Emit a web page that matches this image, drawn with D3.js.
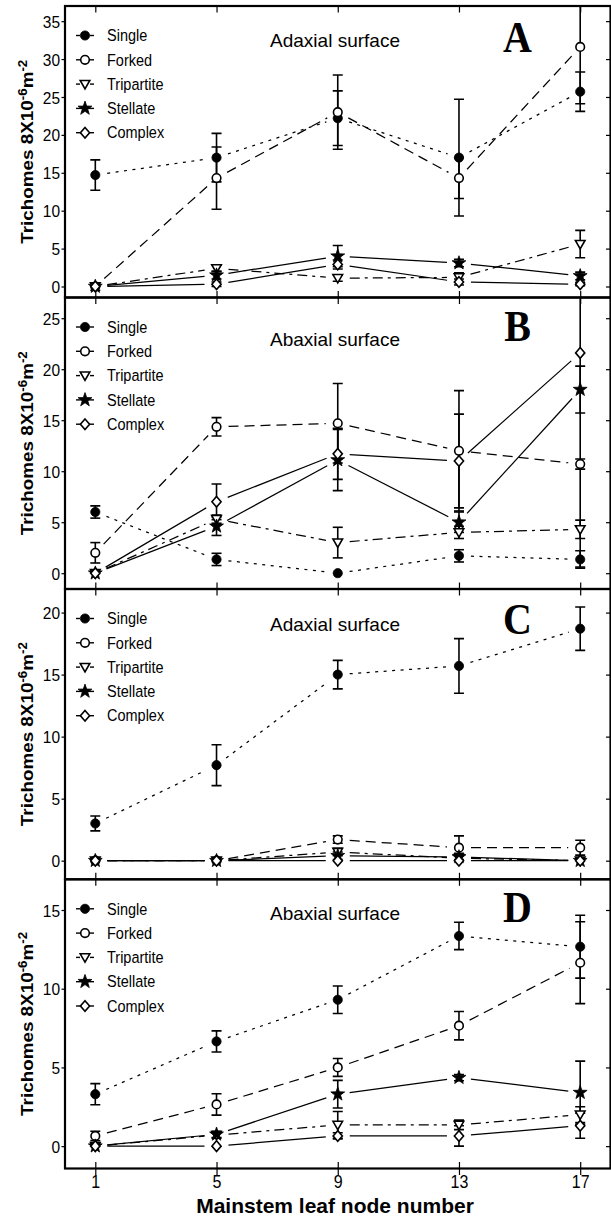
<!DOCTYPE html>
<html>
<head>
<meta charset="utf-8">
<script src="https://cdn.jsdelivr.net/npm/d3@7/dist/d3.min.js"></script>
<style>
  body { margin: 0; background: #fff; }
  svg { display: block; }
  text { font-family: "Liberation Sans", Arial, sans-serif; fill: #000; }
</style>
</head>
<body>
<script>
// Mainstem leaf nodes sampled
const nodes = [1, 5, 9, 13, 17];
const seriesNames = ["Single", "Forked", "Tripartite", "Stellate", "Complex"];
const panelLetters = ["A", "B", "C", "D"];
const surfaceTitles = ["Adaxial surface", "Abaxial surface", "Adaxial surface", "Abaxial surface"];

// y tick values per panel
const yTicksA = [0, 5, 10, 15, 20, 25, 30, 35];
const yTicksB = [0, 5, 10, 15, 20, 25];
const yTicksC = [0, 5, 10, 15, 20];
const yTicksD = [0, 5, 10, 15];

// Means (rows: Single, Forked, Tripartite, Stellate, Complex; columns: nodes)
const meansA = [
  [14.7, 17.0, 22.2, 17.0, 25.7],
  [0, 14.3, 23.0, 14.3, 31.6],
  [0, 2.4, 1.1, 1.2, 5.6],
  [0, 1.5, 4.0, 3.1, 1.4],
  [0, 0.3, 2.9, 0.6, 0.3]
];
const errsA = [
  [2.0, 3.2, 3.6, 7.7, 2.6],
  [0, 4.1, 4.9, 2.7, 7.5],
  [0.5, 0.4, 0.4, 0.6, 1.8],
  [0, 0.5, 1.4, 0.5, 0.5],
  [0, 0.3, 0.6, 0.4, 0.2]
];

const meansB = [
  [6.0, 1.35, 0, 1.7, 1.35],
  [2.0, 14.35, 14.7, 12.0, 10.7],
  [0, 5.3, 3.0, 4.0, 4.3],
  [0, 4.6, 11.1, 5.0, 18.0],
  [0, 7.0, 11.7, 11.0, 21.6]
];
const errsB = [
  [0.6, 0.6, 0, 0.6, 0.85],
  [1.0, 0.9, 3.9, 5.9, 0.5],
  [0, 0.4, 1.5, 0.6, 0.9],
  [0, 0.9, 3.0, 1.0, 2.3],
  [0, 1.75, 2.5, 4.6, 21.0]
];

const meansC = [
  [3.0, 7.7, 15.0, 15.7, 18.7],
  [0, 0, 1.7, 1.05, 1.05],
  [0, 0, 0.7, 0.2, 0],
  [0, 0, 0.4, 0.3, 0],
  [0, 0, 0, 0, 0]
];
const errsC = [
  [0.6, 1.65, 1.15, 2.2, 1.75],
  [0, 0, 0.3, 0.95, 0.6],
  [0, 0, 0.3, 0.2, 0],
  [0, 0, 0.3, 0.3, 0],
  [0, 0, 0, 0, 0]
];

const meansD = [
  [3.3, 6.65, 9.3, 13.35, 12.67],
  [0.65, 2.65, 5.0, 7.65, 11.65],
  [0, 0.7, 1.35, 1.35, 2.0],
  [0, 0.75, 3.3, 4.35, 3.4],
  [0, 0, 0.65, 0.65, 1.3]
];
const errsD = [
  [0.67, 0.67, 0.87, 0.87, 2.0],
  [0.3, 0.68, 0.57, 0.9, 2.6],
  [0, 0.2, 0.85, 0.3, 0.5],
  [0, 0.2, 0.88, 0.2, 2.0],
  [0, 0, 0.2, 0.65, 0.8]
];

// ---- layout & styling ----
const W = 611, H = 1221;
const FONT = "'Liberation Sans', Arial, sans-serif";
const panels = [
  { top: 6,     bottom: 297.5, domain: [-1.45, 37],   ticks: yTicksA, means: meansA, errs: errsA, titleDy: 41, letterDy: 46 },
  { top: 297.5, bottom: 589,   domain: [-1.55, 27.03], ticks: yTicksB, means: meansB, errs: errsB, titleDy: 48, letterDy: 43 },
  { top: 589,   bottom: 879.3, domain: [-1.5, 21.9],  ticks: yTicksC, means: meansC, errs: errsC, titleDy: 42, letterDy: 45 },
  { top: 879.3, bottom: 1168.5, domain: [-1.42, 16.95], ticks: yTicksD, means: meansD, errs: errsD, titleDy: 41, letterDy: 43 }
];

function starPath(R, r) {
  const p = [];
  for (let k = 0; k < 10; k++) {
    const a = -Math.PI / 2 + k * Math.PI / 5;
    const rad = k % 2 ? r : R;
    p.push([(rad * Math.cos(a)).toFixed(2), (rad * Math.sin(a)).toFixed(2)]);
  }
  return "M" + p.join("L") + "Z";
}
const symbolPaths = {
  circle: "M4.6,0A4.6,4.6 0 1,1 -4.6,0A4.6,4.6 0 1,1 4.6,0Z",
  ocircle: "M4.3,0A4.3,4.3 0 1,1 -4.3,0A4.3,4.3 0 1,1 4.3,0Z",
  tridown: "M-4.8,-3.6L4.8,-3.6L0,4.8Z",
  star: starPath(7.3, 2.9),
  diamond: "M0,-5.3L4.6,0L0,5.3L-4.6,0Z"
};
const seriesStyle = [
  { sym: "circle",  fill: "#000", dash: "3,5.5",      legendDash: "4,30" },
  { sym: "ocircle", fill: "#fff", dash: "10,6",       legendDash: null },
  { sym: "tridown", fill: "#fff", dash: "10,5,3,5",   legendDash: "4,30" },
  { sym: "star",    fill: "#000", dash: null,         legendDash: null },
  { sym: "diamond", fill: "#fff", dash: null,         legendDash: null }
];

const x = d3.scaleLinear().domain([0, 18]).range([65, 610.5]);
const gap = 12;     // space left between a connecting line and its markers
const capHalf = 5;  // half width of error bar caps

const svg = d3.select("body").append("svg")
  .attr("width", W).attr("height", H)
  .attr("viewBox", `0 0 ${W} ${H}`);

panels.forEach((p, pi) => {
  const y = d3.scaleLinear().domain(p.domain).range([p.bottom, p.top]);
  const g = svg.append("g");
  const clipId = "clip" + pi;
  svg.append("clipPath").attr("id", clipId)
    .append("rect").attr("x", x(0)).attr("y", p.top)
    .attr("width", x(18) - x(0)).attr("height", p.bottom - p.top);
  const plot = g.append("g").attr("clip-path", `url(#${clipId})`);

  // connecting lines, trimmed back from each marker
  p.means.forEach((vals, si) => {
    const st = seriesStyle[si];
    const segs = [];
    for (let i = 0; i < vals.length - 1; i++) {
      const x0 = x(nodes[i]), y0 = y(vals[i]), x1 = x(nodes[i + 1]), y1 = y(vals[i + 1]);
      const len = Math.hypot(x1 - x0, y1 - y0);
      if (len <= 2 * gap) continue;
      const ux = (x1 - x0) / len, uy = (y1 - y0) / len;
      segs.push({ x1: x0 + ux * gap, y1: y0 + uy * gap, x2: x1 - ux * gap, y2: y1 - uy * gap });
    }
    plot.append("g").selectAll("line").data(segs).join("line")
      .attr("x1", d => d.x1).attr("y1", d => d.y1)
      .attr("x2", d => d.x2).attr("y2", d => d.y2)
      .attr("stroke", "#000").attr("stroke-width", 1.25)
      .attr("stroke-dasharray", st.dash);
  });

  // error bars
  p.means.forEach((vals, si) => {
    const bars = vals.map((v, i) => ({ n: nodes[i], v, e: p.errs[si][i] })).filter(d => d.e > 0);
    const eg = plot.append("g").attr("stroke", "#000").attr("stroke-width", 1.6);
    eg.selectAll("line.v").data(bars).join("line").attr("class", "v")
      .attr("x1", d => x(d.n)).attr("x2", d => x(d.n))
      .attr("y1", d => y(d.v - d.e)).attr("y2", d => y(d.v + d.e));
    eg.selectAll("line.t").data(bars).join("line").attr("class", "t")
      .attr("x1", d => x(d.n) - capHalf).attr("x2", d => x(d.n) + capHalf)
      .attr("y1", d => y(d.v + d.e)).attr("y2", d => y(d.v + d.e));
    eg.selectAll("line.b").data(bars).join("line").attr("class", "b")
      .attr("x1", d => x(d.n) - capHalf).attr("x2", d => x(d.n) + capHalf)
      .attr("y1", d => y(d.v - d.e)).attr("y2", d => y(d.v - d.e));
  });

  // markers
  p.means.forEach((vals, si) => {
    const st = seriesStyle[si];
    plot.append("g").selectAll("path").data(vals.map((v, i) => ({ n: nodes[i], v }))).join("path")
      .attr("d", symbolPaths[st.sym])
      .attr("transform", d => `translate(${x(d.n)},${y(d.v)})`)
      .attr("fill", st.fill)
      .attr("stroke", "#000")
      .attr("stroke-width", st.fill === "#000" ? 0.8 : 1.6);
  });

  // left axis: outward ticks with labels
  const left = g.append("g").attr("transform", `translate(${x(0)},0)`)
    .call(d3.axisLeft(y).tickValues(p.ticks).tickSize(3.5).tickPadding(1.5));
  left.select(".domain").remove();
  left.selectAll("line").attr("stroke-width", 1.2);
  left.selectAll("text")
    .attr("font-size", 15.5).attr("font-family", FONT)
    .attr("dy", null).attr("y", 0)
    .attr("transform", "translate(0,6.1) scale(1,1.1)");

  // right axis: inward ticks, no labels
  const right = g.append("g").attr("transform", `translate(${x(18)},0)`)
    .call(d3.axisRight(y).tickValues(p.ticks).tickSize(-4.5).tickFormat(""));
  right.select(".domain").remove();
  right.selectAll("line").attr("stroke-width", 1.2);

  // top ticks point down into the panel
  const topAx = g.append("g").attr("transform", `translate(0,${p.top})`)
    .call(d3.axisBottom(x).tickValues(nodes).tickSize(6.5).tickFormat(""));
  topAx.select(".domain").remove();
  topAx.selectAll("line").attr("stroke-width", 1.2);

  // bottom ticks cross the frame
  const botIn = g.append("g").attr("transform", `translate(0,${p.bottom})`)
    .call(d3.axisTop(x).tickValues(nodes).tickSize(6.5).tickFormat(""));
  botIn.select(".domain").remove();
  botIn.selectAll("line").attr("stroke-width", 1.2);

  if (pi === panels.length - 1) {
    const bot = g.append("g").attr("transform", `translate(0,${p.bottom})`)
      .call(d3.axisBottom(x).tickValues(nodes).tickSize(6.5));
    bot.select(".domain").remove();
    bot.selectAll("line").attr("stroke-width", 1.2);
    bot.selectAll("text")
      .attr("font-size", 16).attr("font-family", FONT)
      .attr("dy", null).attr("y", 0)
      .attr("transform", "translate(0,19.5) scale(1,1.1)");
  }

  // frame
  g.append("rect")
    .attr("x", x(0)).attr("y", p.top)
    .attr("width", x(18) - x(0)).attr("height", p.bottom - p.top)
    .attr("fill", "none").attr("stroke", "#000").attr("stroke-width", 2.2);

  // surface title and panel letter
  g.append("text")
    .attr("x", 335).attr("y", p.top + p.titleDy)
    .attr("text-anchor", "middle").attr("font-size", 19)
    .text(surfaceTitles[pi]);
  g.append("text")
    .attr("transform", `translate(517.5,${p.top + p.letterDy}) scale(1,1.12)`)
    .attr("text-anchor", "middle")
    .style("font-family", "'Liberation Serif', 'Times New Roman', serif")
    .attr("font-weight", "bold").attr("font-size", 40)
    .text(panelLetters[pi]);

  // y-axis title
  const yt = g.append("text")
    .attr("transform", `translate(33,${(p.top + p.bottom) / 2}) rotate(-90) scale(1.11,1)`)
    .attr("text-anchor", "middle").attr("font-weight", "bold").attr("font-size", 17);
  yt.append("tspan").text("Trichomes 8X10");
  yt.append("tspan").attr("dy", -6).attr("font-size", 12).text("-6");
  yt.append("tspan").attr("dy", 6).text("m");
  yt.append("tspan").attr("dy", -6).attr("font-size", 12).text("-2");

  // legend
  const lg = g.append("g");
  seriesNames.forEach((name, si) => {
    const st = seriesStyle[si];
    const cy = p.top + 29.5 + si * 24.3;
    const row = lg.append("g").attr("transform", `translate(0,${cy})`);
    [[76, 85], [94, 85]].forEach(([a, b]) => {
      row.append("line")
        .attr("x1", a).attr("x2", b).attr("y1", 0).attr("y2", 0)
        .attr("stroke", "#000").attr("stroke-width", 1.4)
        .attr("stroke-dasharray", st.legendDash);
    });
    row.append("path").attr("d", symbolPaths[st.sym])
      .attr("transform", "translate(85,0)")
      .attr("fill", st.fill).attr("stroke", "#000")
      .attr("stroke-width", st.fill === "#000" ? 0.8 : 1.6);
    row.append("text")
      .attr("transform", "translate(107,5.7) scale(1,1.12)")
      .attr("font-size", 14.5)
      .text(name);
  });
});

// x-axis title
svg.append("text")
  .attr("x", 335).attr("y", 1213)
  .attr("text-anchor", "middle").attr("font-weight", "bold").attr("font-size", 21)
  .text("Mainstem leaf node number");
</script>
</body>
</html>
